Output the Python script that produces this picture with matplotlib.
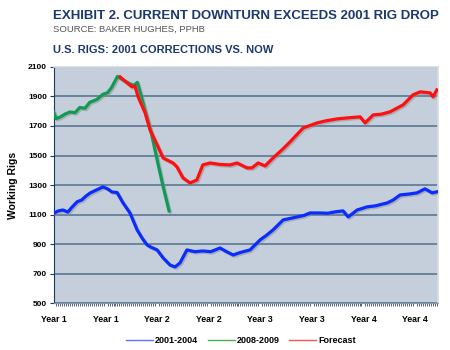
import matplotlib.pyplot as plt
import matplotlib.patheffects as pe
from matplotlib.lines import Line2D

plt.rcParams['font.family'] = ['Liberation Sans', 'DejaVu Sans']

# weeks from start of each cycle, rig counts
weeks_2001 = [0, 2, 4.5, 7, 9, 11.6, 14, 16, 18.2, 21, 24.7, 27, 29.2, 31.8, 34.8,
              38.3, 41.9, 44.5, 46.9, 49, 52, 55, 58.5, 61, 63.5, 67, 71, 75, 79,
              83.7, 87, 90.3, 94, 98.8, 103.9, 107, 110.4, 115.5, 119, 122.5, 126,
              129, 134, 138, 142, 145.7, 148.3, 152.8, 157.8, 162, 168, 171, 174.5,
              179, 183, 187, 190.6, 193]
rigs_2001 = [1110, 1125, 1132, 1118, 1150, 1187, 1200, 1225, 1247, 1265, 1288, 1275,
             1254, 1250, 1180, 1112, 997, 940, 896, 880, 862, 808, 760, 747, 774, 862,
             850, 855, 850, 875, 850, 828, 845, 862, 930, 960, 997, 1065, 1075, 1085,
             1095, 1112, 1112, 1110, 1120, 1126, 1085, 1132, 1153, 1160, 1180, 1200,
             1234, 1240, 1248, 1275, 1248, 1255]

weeks_2008 = [0, 1, 3, 5.5, 8, 10.6, 13, 15.6, 18, 21.7, 24.7, 27, 29, 32, 35, 38.3,
              40.3, 42, 43.4, 46, 49, 52, 55, 58]
rigs_2008 = [1790, 1750, 1760, 1780, 1795, 1790, 1825, 1820, 1860, 1880, 1915, 1925,
             1960, 2035, 2010, 1985, 1975, 1995, 1930, 1800, 1655, 1470, 1290, 1126]

weeks_fcst = [33.3, 36.8, 39.3, 40.8, 42.4, 45.9, 48.4, 52, 55, 57, 60, 62, 65, 68.6,
              72, 75, 78.7, 83.7, 88.8, 92.3, 97.3, 99.8, 102.9, 106.4, 110.4, 115,
              119, 125.6, 132.6, 137, 142.7, 148, 154.3, 156.8, 160.9, 165, 169.4,
              176, 181, 184.6, 189.6, 191, 193]
rigs_fcst = [2032, 1992, 1965, 1970, 1897, 1789, 1674, 1572, 1484, 1470, 1450, 1423,
             1349, 1315, 1335, 1437, 1450, 1440, 1437, 1450, 1417, 1417, 1450, 1430,
             1484, 1540, 1593, 1687, 1721, 1735, 1748, 1755, 1762, 1721, 1775, 1780,
             1796, 1843, 1911, 1931, 1924, 1897, 1944]

tick_weeks = [0, 26, 52, 78, 104, 130, 156, 182]
tick_labels = ['Year 1', 'Year 1', 'Year 2', 'Year 2', 'Year 3', 'Year 3', 'Year 4', 'Year 4']
y_ticks = list(range(500, 2101, 200))

navy = '#1a3a6b'

fig = plt.figure(figsize=(4.5, 3.5), dpi=100)
ax = fig.add_axes([0.12, 0.133, 0.8535, 0.676])
ax.set_facecolor('#c4cfdb')

shadow = [pe.SimpleLineShadow(offset=(1, -1), shadow_color='#8a8a8a', alpha=0.5), pe.Normal()]
ax.plot(weeks_2001, rigs_2001, color='#0a2cff', lw=2.3, path_effects=shadow, zorder=3)
ax.plot(weeks_2008, rigs_2008, color='#109a55', lw=2.3, path_effects=shadow, zorder=3)
ax.plot(weeks_fcst, rigs_fcst, color='#ff1010', lw=2.3, path_effects=shadow, zorder=4)

ax.set_xlim(0, 193.6)
ax.set_ylim(500, 2100)
ax.set_yticks(y_ticks)
ax.set_yticklabels([str(v) for v in y_ticks], fontsize=6, fontweight='bold')
ax.set_xticks(tick_weeks)
ax.set_xticklabels(tick_labels, fontsize=6.3, fontweight='bold')
ax.set_xticks(range(0, 194), minor=True)
ax.tick_params(axis='x', which='major', length=0, pad=8)
ax.tick_params(axis='x', which='minor', length=2, width=0.6, color='#334466')
ax.tick_params(axis='y', length=3, width=0.8, color=navy, pad=2)
ax.grid(axis='y', color='#52708f', lw=1.1)
ax.set_axisbelow(True)
for s in ['top', 'right']:
    ax.spines[s].set_color('#d8dde3')
    ax.spines[s].set_linewidth(1.2)
ax.spines['left'].set_color(navy)
ax.spines['bottom'].set_color('#8898aa')
ax.set_ylabel('Working Rigs', fontsize=7.5, fontweight='bold', labelpad=7)

fig.text(0.118, 0.955, 'EXHIBIT 2. CURRENT DOWNTURN EXCEEDS 2001 RIG DROP',
         fontsize=9.5, fontweight='bold', color=navy, va='center')
fig.text(0.118, 0.917, 'SOURCE: BAKER HUGHES, PPHB', fontsize=6.8, color='#555555', va='center')
fig.text(0.118, 0.857, 'U.S. RIGS: 2001 CORRECTIONS VS. NOW',
         fontsize=8.0, fontweight='bold', color=navy, va='center')

handles = [Line2D([], [], color='#5a78ff', lw=1),
           Line2D([], [], color='#4caf50', lw=1),
           Line2D([], [], color='#ff5050', lw=1)]
fig.legend(handles, ['2001-2004', '2008-2009', 'Forecast'], loc='center',
           bbox_to_anchor=(0.535, 0.026), ncol=3, frameon=False, handlelength=3,
           handletextpad=0.2, columnspacing=1.1, prop={'size': 6.5, 'weight': 'bold'})

fig.savefig('out.png', dpi=100)
